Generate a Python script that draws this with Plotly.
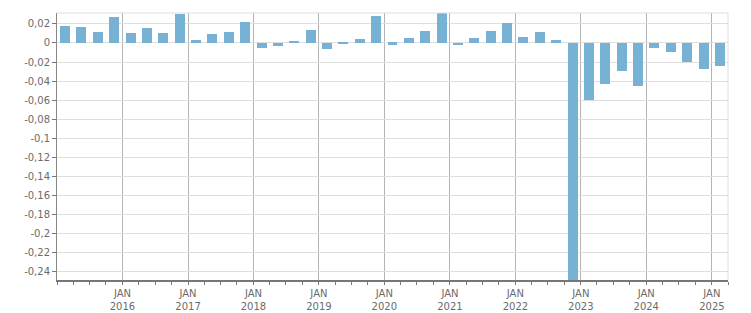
import plotly.graph_objects as go

quarters = [f"{y}-{m:02d}-01" for y in range(2015, 2026) for m in (1, 4, 7, 10)][:41]
values = [
    0.0179, 0.0169, 0.0117, 0.0272,
    0.0107, 0.0159, 0.0107, 0.0305,
    0.0034, 0.0090, 0.0117, 0.0220,
    -0.0048, -0.0028, 0.0014, 0.0136,
    -0.0059, -0.0014, 0.0045, 0.0285,
    -0.0017, 0.0055, 0.0128, 0.0310,
    -0.0024, 0.0055, 0.0128, 0.0210,
    0.0066, 0.0117, 0.0034, -0.2700,
    -0.0596, -0.0430, -0.0295, -0.0450,
    -0.0048, -0.0098, -0.0203, -0.0275,
    -0.0243,
]
y_ticks = [0.02 - 0.02 * i for i in range(14)]
y_labels = ["0,02", "0", "-0,02", "-0,04", "-0,06", "-0,08", "-0,1", "-0,12",
            "-0,14", "-0,16", "-0,18", "-0,2", "-0,22", "-0,24"]
x_ticks = [f"{y}-01-01" for y in range(2016, 2026)]
x_labels = [f"JAN<br>{y}" for y in range(2016, 2026)]

DAY = 86400000
fig = go.Figure(go.Bar(
    x=quarters, y=values,
    xperiod="M3", xperiodalignment="middle",
    width=0.61 * 91.3 * DAY,
    marker=dict(color="#77b1d4", line=dict(width=0)),
))

font = dict(family="DejaVu Sans", size=10, color="#6b6b6b")
fig.update_layout(
    width=751, height=313,
    margin=dict(l=57, r=23, t=13, b=33),
    paper_bgcolor="white", plot_bgcolor="white",
    showlegend=False,
    font=font,
    bargap=0,
    xaxis=dict(
        type="date",
        range=["2015-01-01", "2025-04-01"],
        automargin=False,
        tickmode="array", tickvals=x_ticks, ticktext=x_labels,
        ticks="outside", ticklen=3, tickcolor="#777777", tickwidth=1,
        showgrid=True, gridcolor="#b4b4b4", gridwidth=1,
        showline=True, linecolor="#777777", linewidth=2,
        tickfont=font,
        minor=dict(dtick="M3", tick0="2015-01-01", ticks="outside", ticklen=3,
                   tickcolor="#777777", showgrid=False),
        zeroline=False,
    ),
    yaxis=dict(
        range=[-0.2484, 0.0314],
        automargin=False,
        tickmode="array", tickvals=y_ticks, ticktext=y_labels,
        ticks="outside", ticklen=4, tickcolor="#777777",
        showgrid=True, gridcolor="#dedede", gridwidth=1,
        showline=True, linecolor="#888888", linewidth=1,
        zeroline=False,
        tickfont=font,
    ),
    shapes=[
        dict(type="line", xref="paper", yref="paper", x0=0, x1=1, y0=1, y1=1,
             line=dict(color="#dedede", width=1)),
        dict(type="line", xref="paper", yref="paper", x0=1, x1=1, y0=0, y1=1,
             line=dict(color="#dedede", width=1)),
    ],
)
fig.write_html("out.html")
